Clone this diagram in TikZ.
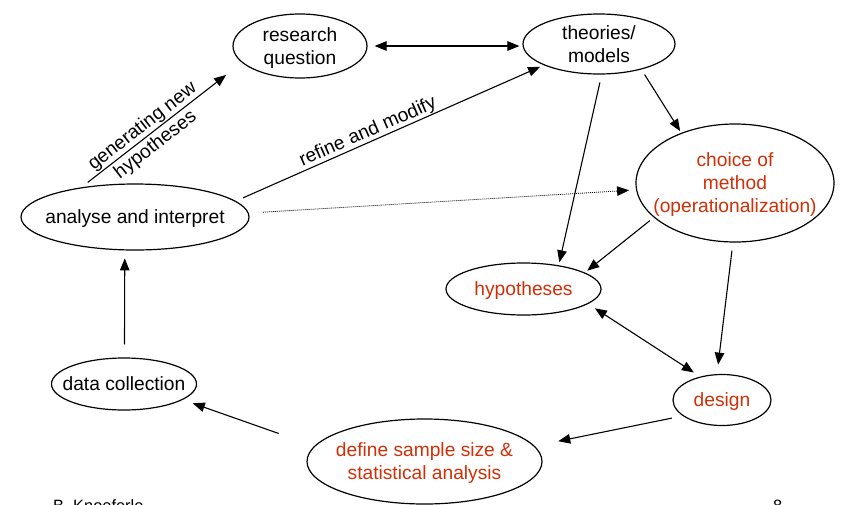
\documentclass[tikz,border=0pt]{standalone}
\usepackage{fontspec}
\setmainfont{Liberation Sans}
\usetikzlibrary{arrows.meta,shapes.geometric}
\definecolor{accred}{RGB}{208,48,8}
\begin{document}
\begin{tikzpicture}[x=1pt,y=-1pt,
  every node/.style={font=\fontsize{19.2}{23}\selectfont},
  bub/.style={draw, ellipse, line width=1.2pt, inner xsep=-25pt, inner ysep=0pt, text depth=0pt, align=center},
  redtxt/.style={text=accred},
  conn/.style={line width=1.1pt, -{Triangle[length=12pt,width=9.5pt]}},
  biconn/.style={line width=1.1pt, {Triangle[length=12pt,width=9.5pt]}-{Triangle[length=12pt,width=9.5pt]}},
  lbl/.style={inner sep=0pt},
  foot/.style={anchor=base west, inner sep=0pt, font=\fontsize{16.4}{19}\selectfont}
]
\useasboundingbox (0,0) rectangle (843,504);
\clip (0,0) rectangle (843,504);
\fill[white] (0,0) rectangle (843,504);

\node[bub, minimum width=134pt, minimum height=64pt] (rq) at (300,46) {research\\question};
\node[bub, minimum width=152pt, minimum height=60pt] (tm) at (599,44) {theories/\\models};
\node[bub, redtxt, minimum width=198pt, minimum height=118pt] (cm) at (735,183) {choice of\\method\\(operationalization)};
\node[bub, minimum width=228pt, minimum height=66pt] (an) at (135,217) {analyse and interpret};
\node[bub, redtxt, minimum width=155pt, minimum height=52pt] (hy) at (523.5,289) {hypotheses};
\node[bub, minimum width=145pt, minimum height=52pt] (dc) at (124,384) {data collection};
\node[bub, redtxt, minimum width=98pt, minimum height=51pt] (de) at (722,400) {design};
\node[bub, redtxt, minimum width=235pt, minimum height=85pt] (ss) at (424.5,461.5) {define sample size \&\\statistical analysis};

\draw[biconn, shorten <=7pt, shorten >=3pt] (rq.east) -- (rq.east -| tm.west);
\draw[conn, shorten <=8pt, shorten >=20pt] (an.151.4) -- (rq.196.3);
\draw[conn, shorten <=8pt, shorten >=4pt] (an.9) -- (tm.201.9);
\draw[conn, line width=0.8pt, dash pattern=on 1pt off 1pt, shorten <=14pt, shorten >=7pt] (an.2) -- (cm.184.8);
\draw[conn, shorten <=8pt, shorten >=3pt] (tm.275.5) -- (hy.34.6);
\draw[conn, shorten <=6pt, shorten >=2pt] (tm.329.1) -- (cm.137.5);
\draw[conn, shorten <=5pt, shorten >=3pt] (cm.203.3) -- (hy.15);
\draw[conn, shorten <=8pt, shorten >=9.5pt] (cm.268.1) -- (de.101.5);
\draw[biconn, shorten <=8pt, shorten >=7.5pt] (hy.347.1) -- (de.133.5);
\draw[conn, shorten <=11pt, shorten >=24pt] (de.202.5) -- (ss.8);
\draw[conn, shorten <=37.7pt, shorten >=10.5pt] (ss.172.5) -- (dc.345);
\draw[conn, shorten <=13pt, shorten >=8pt] (dc.89) -- (an.253.1);

\node[lbl, rotate=37.8] (lg1) at (142.6,126.7) {generating new};
\node[lbl, rotate=37.8] (lg2) at (155.7,145) {hypotheses};
\node[lbl, rotate=23.6] (lrm) at (368,132) {refine and modify};

\node[foot] (auth) at (53,511.5) {B. Knoeferle};
\node[foot] (pg) at (773,511.5) {8};
\end{tikzpicture}
\end{document}
